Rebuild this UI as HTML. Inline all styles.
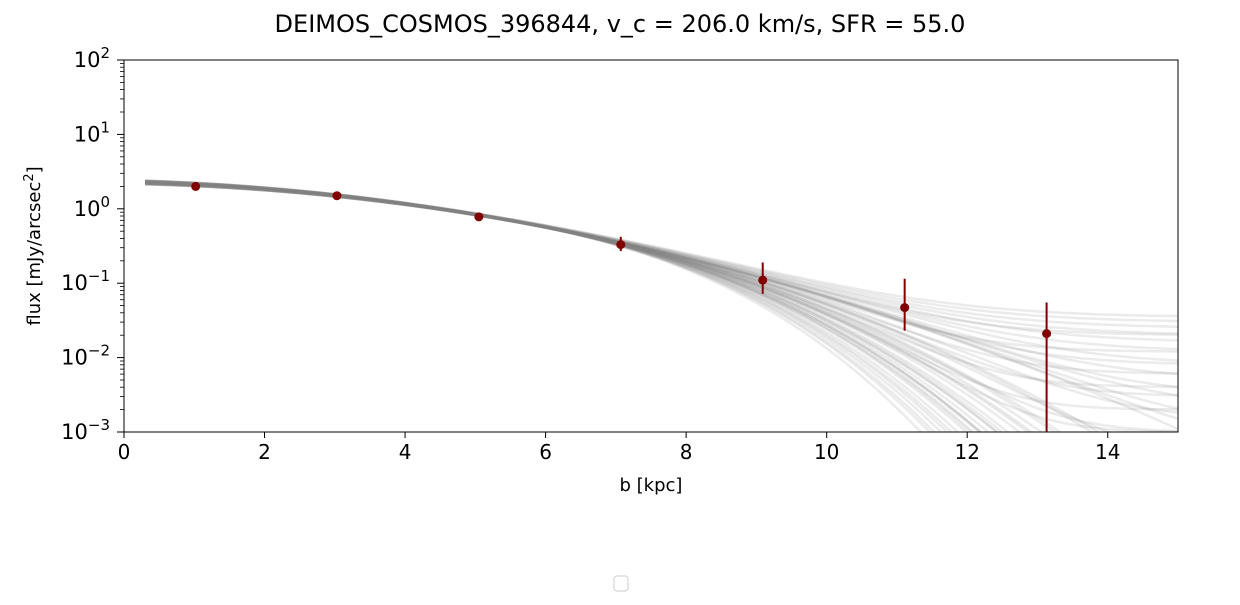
<!DOCTYPE html>
<html><head><meta charset="utf-8"><style>
body{margin:0;background:#fff;}
svg text{font-family:"DejaVu Sans","Liberation Sans",sans-serif;}
</style></head><body>
<svg id="chart" width="1240" height="600" viewBox="0 0 1240 600" xmlns="http://www.w3.org/2000/svg">
<text x="620" y="32" font-size="24" text-anchor="middle">DEIMOS_COSMOS_396844, v_c = 206.0 km/s, SFR = 55.0</text>
<g id="curves"></g>
<g id="points"></g>
<rect x="124" y="60" width="1054" height="372" fill="none" stroke="#000" stroke-width="1"/>
<g id="axes"></g>
<text x="651" y="491" font-size="18" text-anchor="middle">b [kpc]</text>
<text transform="translate(40,246) rotate(-90)" font-size="18" text-anchor="middle">flux [mJy/arcsec<tspan dy="-7" font-size="13">2</tspan><tspan dy="7">]</tspan></text>
<rect x="614" y="576" width="14" height="15" rx="3" fill="#fff" stroke="#ccc"/>
</svg>
<script>
const xTicks=[0,2,4,6,8,10,12,14];
const yTickExps=[2,1,0,-1,-2,-3];
const pointB=[1.02,3.03,5.05,7.07,9.09,11.11,13.13];
const pointFlux=[2.0,1.5,0.78,0.33,0.11,0.047,0.021];
const errLow=[1.95,1.45,0.75,0.27,0.072,0.023,0.0009];
const errHigh=[2.05,1.55,0.81,0.42,0.19,0.115,0.055];
const curveK=[0,0,0,0,0,0,0,0,0.0005,0.001,0.001,0.0015,0.002,0.002,0.0025,0.003,0.003,0.0035,0.004,0.0045,0.005,0.0055,0,0,0,0.0005,0.001,0.0015,0.002,0.0025,0.003,0.0005,0.001,0.0015,0,0.0007,0.0012,0.0018,0.0022,0.0028,0.0033,0.0038,0.0042,0.0048,0,0.0008,0.0013,0.0017,0.0024,0.0032];
const curveC=[0.035,0.03,0.025,0.02,0.016,0.012,0.008,0.005,0.02,0.012,0.006,0.004,0.002,0.001,0,0,0,0,0,0,0,0,0.003,0.002,0.001,0.0015,0.0005,0,0,0,0,0.008,0.003,0.001,0,0,0,0,0,0,0,0,0,0,0.0005,0,0,0,0,0];
const curveA=[-0.02,0.0,0.02,-0.01,0.01,0.025,-0.025,0.015,-0.015,0.005,-0.005,0.02,-0.02,0.0,0.01,-0.01,0.025,-0.025,0.015,-0.015,0.005,-0.005,0.02,-0.02,0.0,0.01,-0.01,0.025,-0.025,0.015,-0.015,0.005,-0.005,0.02,-0.02,0.0,0.01,-0.01,0.025,-0.025,0.015,-0.015,0.005,-0.005,0.02,-0.02,0.0,0.01,-0.01,0.02];
const baseCoef=[0.36,-0.02,-0.0135];
const SVGNS="http://www.w3.org/2000/svg";
const X0=124,X1=1178,Y0=60,Y1=432;
const xs=b=>X0+(b/15)*(X1-X0);
const ys=f=>Y0+(2-Math.log10(f))/5*(Y1-Y0);
function mk(t,a,p){const e=document.createElementNS(SVGNS,t);for(const k in a)e.setAttribute(k,a[k]);p.appendChild(e);return e;}
const chart=document.getElementById('chart');
const clip=mk('clipPath',{id:'pc'},chart);
mk('rect',{x:X0,y:Y0,width:X1-X0,height:Y1-Y0},clip);
const cg=document.getElementById('curves');
cg.setAttribute('clip-path','url(#pc)');
curveK.forEach((k,i)=>{
  const c=curveC[i];
  const a=curveA[i];
  let d="";
  for(let b=0.3;b<=15.001;b+=0.1){
    const lg=baseCoef[0]+a*(1-b/8)+baseCoef[1]*b+baseCoef[2]*b*b-k*Math.pow(Math.max(b-5,0),3);
    let f=Math.pow(10,lg)+c;
    f=Math.max(f,1e-4);
    d+=(d?"L":"M")+xs(b).toFixed(1)+","+ys(f).toFixed(1);
  }
  const p=mk('path',{d:d,fill:"none",stroke:"#808080","stroke-opacity":"0.16","stroke-width":"2.5"},cg);
  
  
});
const pg=document.getElementById('points');
pointB.forEach((b,i)=>{
  const l=mk('line',{x1:xs(b),x2:xs(b),y1:ys(errHigh[i]),y2:Math.min(ys(errLow[i]),Y1),stroke:"#800000","stroke-width":"2"},pg);
  
  
  const c=mk('circle',{cx:xs(b),cy:ys(pointFlux[i]),r:4.5,fill:"#800000"},pg);
  
  
});
const ag=document.getElementById('axes');
xTicks.forEach(t=>{
  mk('line',{x1:xs(t),x2:xs(t),y1:Y1,y2:Y1+6,stroke:"#000"},ag);
  const tx=mk('text',{x:xs(t),y:Y1+27,"font-size":"20","text-anchor":"middle"},ag);
  tx.textContent=t;
  
  
});
yTickExps.forEach(e=>{
  const y=ys(Math.pow(10,e));
  mk('line',{x1:X0-7,x2:X0,y1:y,y2:y,stroke:"#000"},ag);
  if(e>-3){for(let m=2;m<=9;m++){const yy=ys(m*Math.pow(10,e-1));mk('line',{x1:X0-4,x2:X0,y1:yy,y2:yy,stroke:"#000","stroke-width":"0.8"},ag);}}
  const tx=mk('text',{x:X0-14,y:y+7,"font-size":"21","text-anchor":"end"},ag);
  tx.innerHTML='10<tspan dy="-9" font-size="15">'+(e<0?'\u2212'+(-e):e)+'</tspan>';
  
  
});
</script>
</body></html>
